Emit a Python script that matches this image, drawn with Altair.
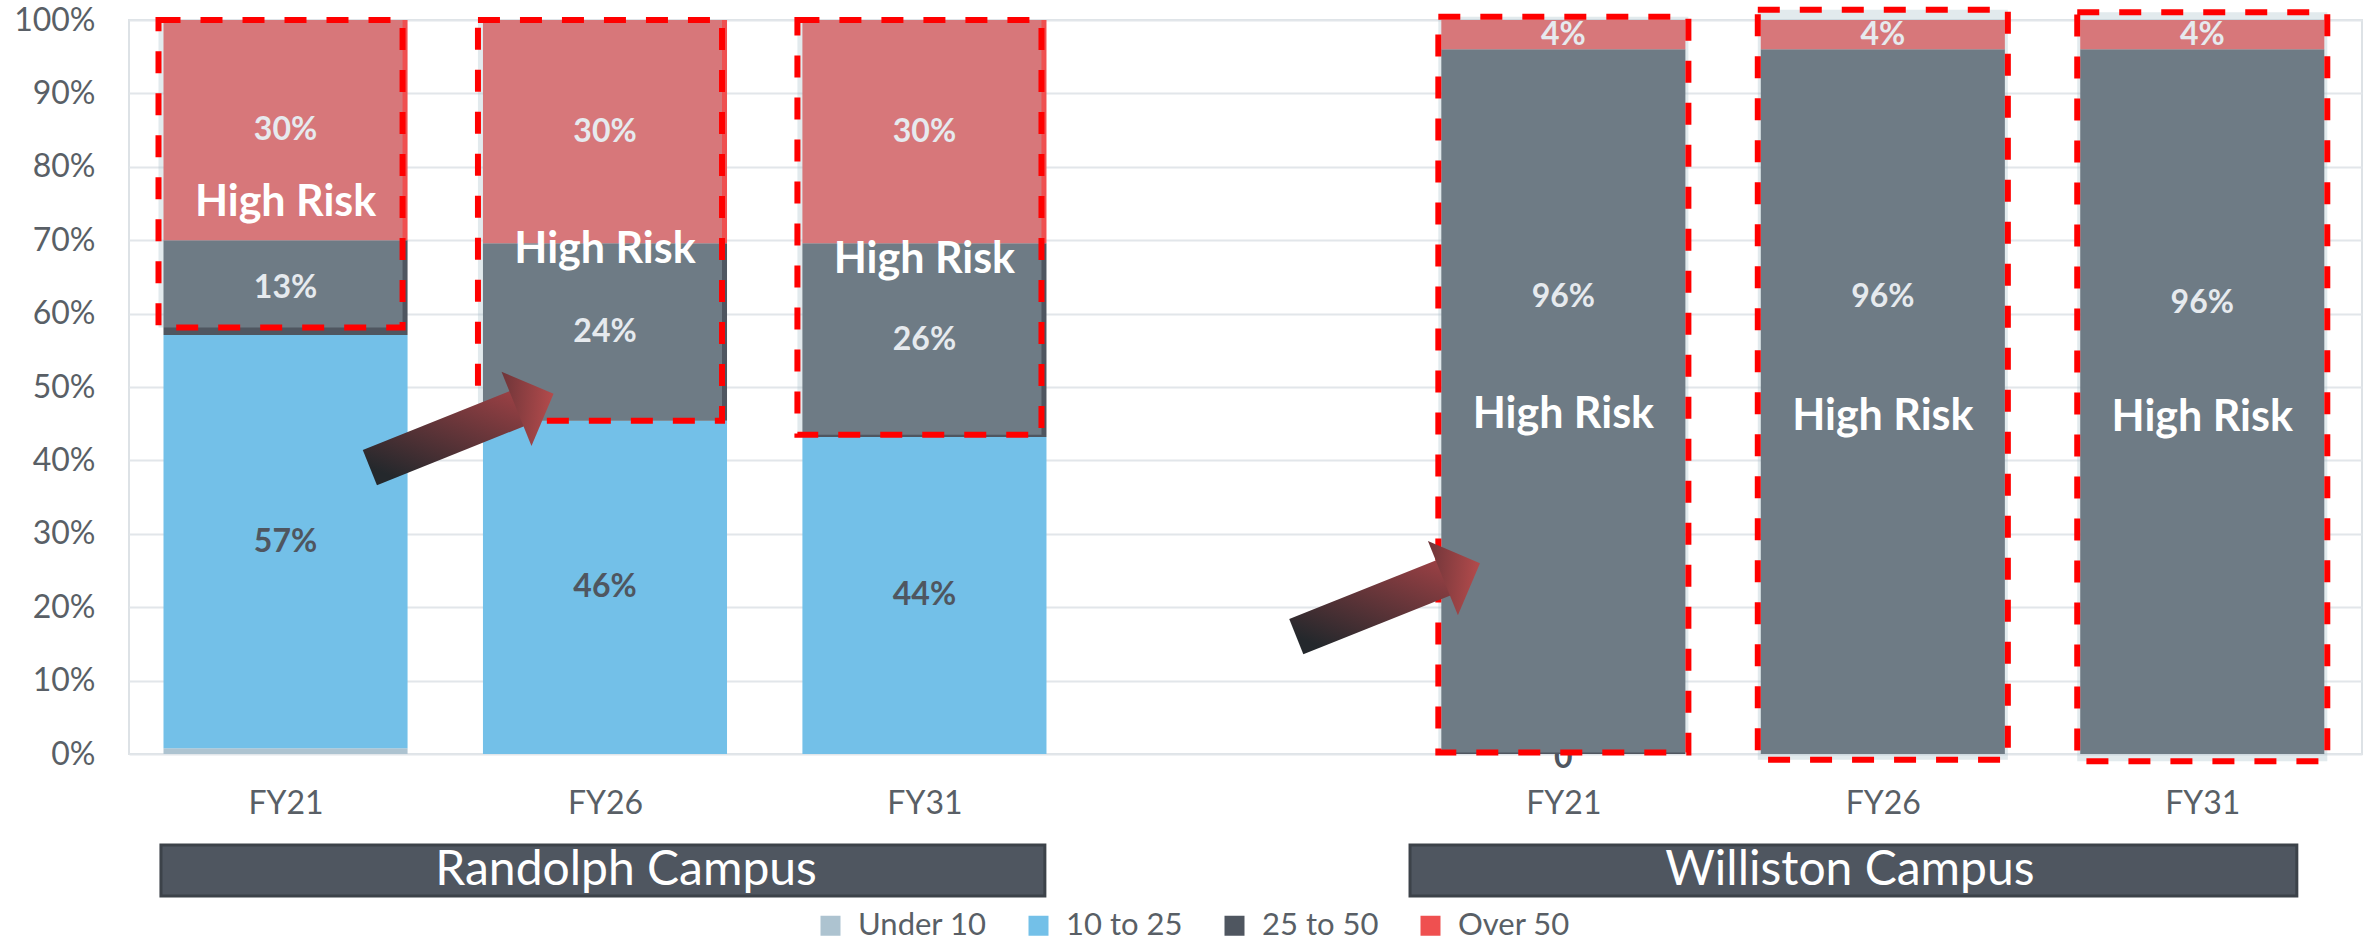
import json
import altair as alt
import pandas as pd

# ---------------- data ----------------
slots = [0, 1, 2, 4, 5, 6]
years = ["FY21", "FY26", "FY31", "FY21", "FY26", "FY31"]
campus = ["Randolph", "Randolph", "Randolph", "Williston", "Williston", "Williston"]
categories = ["Under 10", "10 to 25", "25 to 50", "Over 50"]
legend_colors = ["#ADC3D0", "#73C0E8", "#4F5660", "#EF5050"]

under_10 = [0.8, 0.0, 0.0, 0.0, 0.0, 0.0]
from_10_to_25 = [56.3, 45.4, 43.2, 0.0, 0.0, 0.0]
from_25_to_50 = [12.9, 24.2, 26.4, 96.0, 96.0, 96.0]
over_50 = [30.0, 30.4, 30.4, 4.0, 4.0, 4.0]

labels_10_25 = ["57%", "46%", "44%", "0", "", ""]
labels_25_50 = ["13%", "24%", "26%", "96%", "96%", "96%"]
labels_over_50 = ["30%", "30%", "30%", "4%", "4%", "4%"]
label_y_25_50_override = {3: 62.3, 4: 62.2, 5: 61.4}

high_risk_y = [75.1, 68.7, 67.3, 46.2, 45.9, 45.8]
risk_box_lo = [58.1, 45.4, 43.5, 0.2, -0.8, -1.0]
risk_box_hi = [100.0, 100.0, 100.0, 100.45, 101.4, 101.05]

group_names = ["Randolph Campus", "Williston Campus"]
group_x0 = [-0.39, 3.52]
group_x1 = [2.377, 6.296]
group_label_x = [1.066, 4.897]
group_y0 = [-12.4, -12.4]
group_y1 = [-19.35, -19.35]

arrow_tail_x = [0.264, 3.164]
arrow_tail_y = [39.0, 15.98]
arrow_head_x = [0.781, 3.681]
arrow_head_y = [48.05, 24.97]

tick_labels = ["FY21", "FY26", "FY31", "", "FY21", "FY26", "FY31"]
y_ticks = [0, 10, 20, 30, 40, 50, 60, 70, 80, 90, 100]

# ---------------- tables ----------------
rows = []
series = [under_10, from_10_to_25, from_25_to_50, over_50]
for i, s in enumerate(slots):
    base = 0.0
    for c, vals in zip(categories, series):
        rows.append({"slot": s, "campus": campus[i], "category": c,
                     "y0": base, "y1": base + vals[i]})
        base += vals[i]
bar_df = pd.DataFrame(rows)

light_rows, dark_rows = [], []
for i, s in enumerate(slots):
    b1 = under_10[i]
    b2 = b1 + from_10_to_25[i]
    b3 = b2 + from_25_to_50[i]
    b4 = b3 + over_50[i]
    if labels_10_25[i]:
        dark_rows.append({"slot": s, "y": (b1 + b2) / 2, "text": labels_10_25[i]})
    light_rows.append({"slot": s, "y": label_y_25_50_override.get(i, (b2 + b3) / 2),
                       "text": labels_25_50[i]})
    light_rows.append({"slot": s, "y": (b3 + b4) / 2, "text": labels_over_50[i]})
light_df = pd.DataFrame(light_rows)
dark_df = pd.DataFrame(dark_rows)
zero_df = dark_df[dark_df["text"] == "0"]
dark_df = dark_df[dark_df["text"] != "0"]

hr_df = pd.DataFrame({"slot": slots, "y": high_risk_y, "text": ["High Risk"] * 6})
box_df = pd.DataFrame({"slot": slots, "campus": campus, "lo": risk_box_lo, "hi": risk_box_hi})
grp_df = pd.DataFrame({"name": group_names, "x0": group_x0, "x1": group_x1,
                       "xl": group_label_x, "y0": group_y0, "y1": group_y1})
arrow_rows = []
for k in range(2):
    arrow_rows.append({"arrow": k, "order": 0, "x": arrow_tail_x[k], "y": arrow_tail_y[k]})
    arrow_rows.append({"arrow": k, "order": 1, "x": arrow_head_x[k], "y": arrow_head_y[k]})
arrow_df = pd.DataFrame(arrow_rows)
head_df = pd.DataFrame({"x": arrow_head_x, "y": arrow_head_y})

# ---------------- scales / axes ----------------
FONT = "Lato"
AXIS_GRAY = "#595F66"
HALF = 0.382

xscale = alt.Scale(domain=[-0.49, 6.5], nice=False, zero=False)
yscale = alt.Scale(domain=[0, 100], nice=False, zero=False)
label_expr = json.dumps(tick_labels) + "[datum.value]"
xaxis = alt.Axis(values=[0, 1, 2, 4, 5, 6], labelExpr=label_expr, domain=False, ticks=False,
                 grid=False, labelPadding=34, labelFontSize=32, labelColor=AXIS_GRAY,
                 labelFont=FONT, title=None)
yaxis = alt.Axis(values=y_ticks, labelExpr="datum.value + '%'", domain=False, ticks=False,
                 grid=True, gridColor="#E2E6EA", gridWidth=2, labelPadding=34,
                 labelFontSize=32, labelColor=AXIS_GRAY, labelFont=FONT, title=None)


def X(field):
    return alt.X(field, type="quantitative", scale=xscale, axis=xaxis, title=None)


def Y(field):
    return alt.Y(field, type="quantitative", scale=yscale, axis=yaxis, title=None)


bars = alt.Chart(bar_df).transform_calculate(
    xl=f"datum.slot - {HALF}", xr=f"datum.slot + {HALF}"
).mark_rect().encode(
    x=X("xl"), x2="xr:Q", y=Y("y0"), y2="y1:Q",
    color=alt.Color("category:N", scale=alt.Scale(domain=categories, range=legend_colors),
                    legend=alt.Legend(orient="none", legendX=686, legendY=890,
                                      direction="horizontal", title=None,
                                      symbolType="square", symbolSize=400,
                                      symbolStrokeWidth=0, symbolOpacity=1,
                                      labelFontSize=31, labelColor=AXIS_GRAY,
                                      labelFont=FONT, columnPadding=36,
                                      labelOffset=12, padding=0)),
)

zero_text = alt.Chart(zero_df).mark_text(font=FONT, fontSize=32, fontWeight="bold",
                                         color="#4F5660", baseline="middle", dy=4).encode(
    x=X("slot"), y=Y("y"), text="text:N")


def risk_boxes(name, off0, off1):
    return alt.Chart(box_df).transform_filter(f"datum.campus == '{name}'").transform_calculate(
        xl=f"datum.slot - {HALF}", xr=f"datum.slot + {HALF}"
    ).mark_rect(fill="#ACC1CA", fillOpacity=0.344, stroke="#FF0000", strokeWidth=6,
                strokeDash=[22, 20], xOffset=off0, x2Offset=off1).encode(
        x=X("xl"), x2="xr:Q", y=Y("lo"), y2="hi:Q")


box_r = risk_boxes("Randolph", -5, -5)
box_w = risk_boxes("Williston", -3, 3)

light_text = alt.Chart(light_df).mark_text(font=FONT, fontSize=32, fontWeight="bold",
                                           color="#E6EAEE", baseline="middle").encode(
    x=X("slot"), y=Y("y"), text="text:N")
dark_text = alt.Chart(dark_df).mark_text(font=FONT, fontSize=32, fontWeight="bold",
                                         color="#4F5660", baseline="middle").encode(
    x=X("slot"), y=Y("y"), text="text:N")
hr_text = alt.Chart(hr_df).mark_text(font=FONT, fontSize=43, fontWeight="bold",
                                     color="#FFFFFF", baseline="middle").encode(
    x=X("slot"), y=Y("y"), text="text:N")

shaft = alt.Chart(arrow_df).mark_line(
    strokeWidth=38, strokeCap="butt",
    color=alt.Gradient(gradient="linear", x1=0, y1=1, x2=1, y2=0,
                       stops=[alt.GradientStop(offset=0, color="#24282C"),
                              alt.GradientStop(offset=1, color="#9A4044")])
).encode(x=X("x"), y=Y("y"), detail="arrow:N", order="order:Q")

head = alt.Chart(head_df).mark_point(
    shape="M-0.5,-1L0.5,0L-0.5,1Z", size=6400, angle=338, filled=True, opacity=1,
    strokeWidth=0,
    fill=alt.Gradient(gradient="linear", x1=0, y1=0, x2=1, y2=1,
                      stops=[alt.GradientStop(offset=0, color="#6E3539"),
                             alt.GradientStop(offset=1, color="#CA5252")])
).encode(x=X("x"), y=Y("y"))

grp_box = alt.Chart(grp_df).mark_rect(fill="#4F5660", stroke="#3C4249", strokeWidth=3).encode(
    x=X("x0"), x2="x1:Q", y=Y("y0"), y2="y1:Q")
grp_text = alt.Chart(grp_df).transform_calculate(
    yc="(datum.y0 + datum.y1) / 2"
).mark_text(font=FONT, fontSize=48, color="#FFFFFF", baseline="middle").encode(
    x=X("xl"), y=Y("yc"), text="name:N")

chart = alt.layer(
    zero_text, bars, box_r, box_w, light_text, dark_text, hr_text, shaft, head,
    grp_box, grp_text
).properties(
    width=2233, height=734,
    autosize=alt.AutoSizeParams(type="none"),
    padding={"left": 129, "top": 20, "right": 4, "bottom": 192},
    background="#FFFFFF",
).configure_view(stroke="#DDE2E6", strokeWidth=2)

chart.save("out.html", embed_options={"renderer": "svg", "actions": False})
